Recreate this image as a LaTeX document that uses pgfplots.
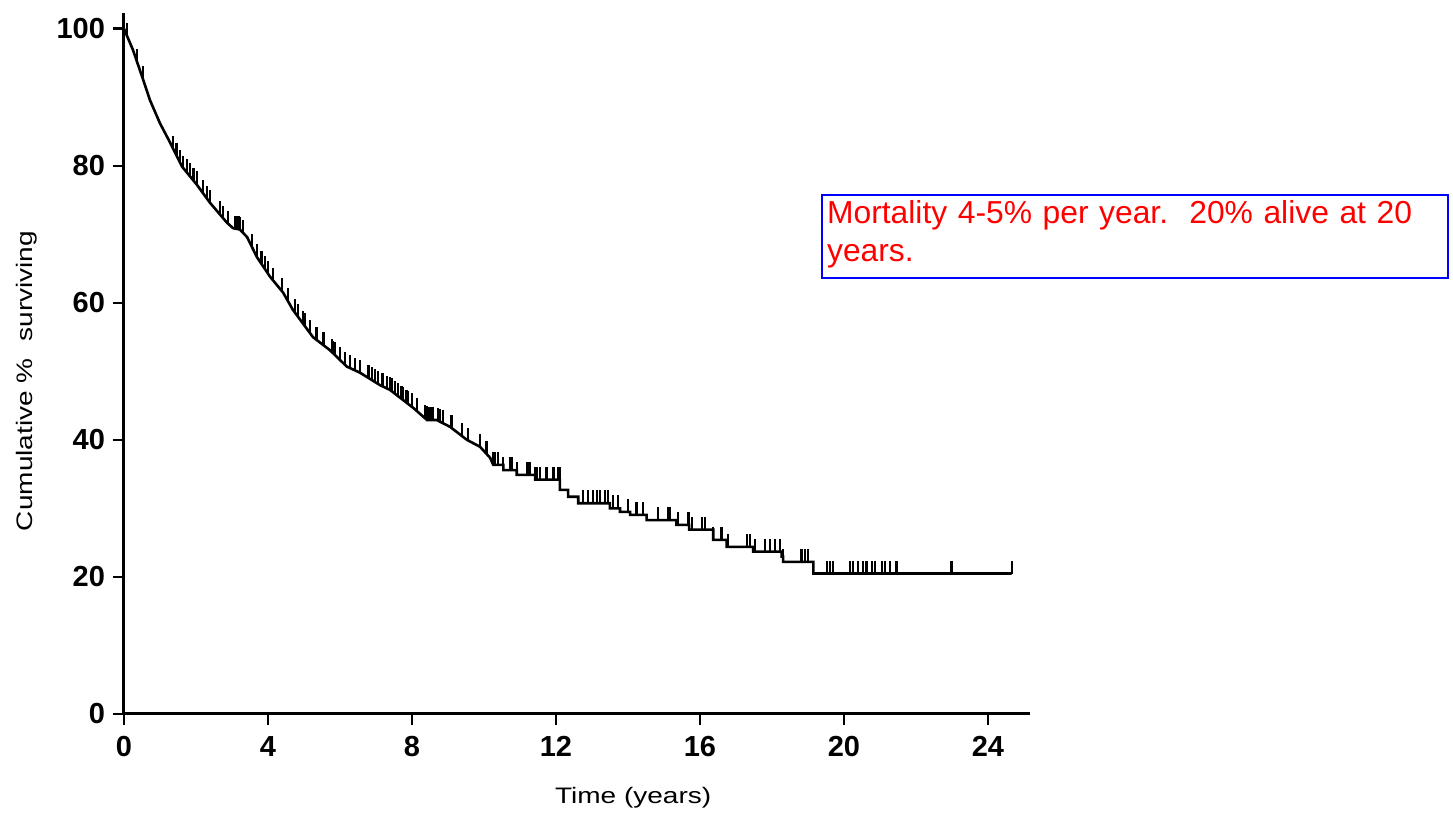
\documentclass[border=0pt]{standalone}
\usepackage{fontspec}
\setmainfont{Liberation Sans}
\usepackage{pgfplots}
\pgfplotsset{compat=1.18}
\pgfdeclareplotmark{cens}{%
  \pgfpathmoveto{\pgfqpoint{0pt}{0pt}}%
  \pgfpathlineto{\pgfqpoint{0pt}{\pgfplotmarksize}}%
  \pgfusepathqstroke}
\begin{document}
\begin{tikzpicture}
\begin{axis}[
  scale only axis, width=453pt, height=350.5pt,
  xmin=0, xmax=25.17, ymin=0, ymax=102.3,
  axis x line*=bottom, axis y line*=left,
  axis line style={line width=1.5pt, -},
  xtick={0,4,...,24}, ytick={0,20,...,100},
  tick align=outside, major tick length=5.5pt,
  tick style={line width=1.3pt, black},
  /pgf/number format/assume math mode=true,
  tick label style={font=\fontsize{14.5}{17}\selectfont\bfseries},
  xticklabel style={yshift=-2pt},
  yticklabel style={xshift=-0.5pt},
  xlabel={\scalebox{1}[0.8]{Time (years)}},
  ylabel={\scalebox{1}[0.8]{Cumulative \%\hspace{0.6em}surviving}},
  label style={font=\fontsize{14}{17}\selectfont},
  xlabel style={at={(rel axis cs:0.562,0)}, anchor=north, yshift=-33pt},
  ylabel style={at={(rel axis cs:0,0.475)}, anchor=south, yshift=40pt},
  clip=false,
]
\addplot[black, line width=1.3pt] coordinates {
(0,100)(0.25,96.9)(0.53,92.6)(0.72,89.6)(1.0,86.2)(1.28,83.4)(1.61,79.9)(2.03,77.2)(2.39,74.6)(2.86,71.7)(3.03,70.9)(3.22,70.7)(3.42,69.6)(3.69,66.7)(4.06,63.8)(4.42,61.5)(4.69,59.0)(5.25,55.0)(5.72,53.1)(6.19,50.7)(6.56,49.8)(7.11,48.0)(7.39,47.3)(8.03,44.7)(8.42,42.9)(8.69,42.9)(9.06,41.9)(9.53,40.0)(9.89,39.0)(10.17,37.4)
(10.26,36.35)(10.54,36.35)(10.54,35.6)(10.91,35.6)(10.91,34.9)(11.42,34.9)(11.42,34.2)(12.11,34.2)(12.11,32.7)(12.34,32.7)(12.34,31.7)(12.62,31.7)(12.62,30.75)(13.5,30.75)(13.5,30.0)(13.78,30.0)(13.78,29.5)(14.06,29.5)(14.06,29.05)(14.52,29.05)(14.52,28.3)(15.35,28.3)(15.35,27.6)(15.7,27.6)(15.7,26.9)(16.37,26.9)(16.37,25.4)(16.74,25.4)(16.74,24.4)(17.48,24.4)(17.48,23.7)(18.27,23.7)(18.27,22.96)(18.31,22.96)(18.31,22.2)(19.15,22.2)(19.15,20.5)(24.66,20.5)
};
\addplot[only marks, mark=cens, mark size=6.5pt, mark options={line width=1.1pt, black}] coordinates {
(0.08,99.0)(0.36,95.2)(0.53,92.6)
(1.37,82.4)(1.46,81.5)(1.56,80.4)(1.65,79.6)(1.74,79.1)(1.83,78.5)(1.93,77.8)(2.02,77.3)(2.2,76.0)(2.3,75.2)(2.39,74.6)(2.67,72.9)(2.76,72.3)(2.9,71.5)(3.08,70.85)(3.13,70.8)(3.18,70.75)(3.22,70.7)(3.31,70.2)(3.55,68.2)(3.69,66.7)(3.82,65.7)(3.92,64.9)(4.01,64.2)(4.15,63.2)(4.38,61.8)(4.56,60.2)
(4.75,58.6)(4.84,57.9)(4.98,56.9)(5.03,56.6)(5.17,55.6)(5.35,54.6)(5.54,53.8)(5.77,52.8)(5.81,52.6)(5.86,52.4)(6.0,51.7)(6.14,51.0)(6.28,50.5)(6.42,50.1)(6.56,49.8)(6.79,49.0)(6.88,48.8)(6.97,48.5)(7.06,48.2)
(7.16,47.9)(7.2,47.8)(7.3,47.5)(7.39,47.3)(7.44,47.1)(7.53,46.7)(7.62,46.4)(7.71,46.0)(7.76,45.8)(7.85,45.4)(7.9,45.2)(7.99,44.9)(8.13,44.2)(8.36,43.2)(8.41,43.0)(8.45,42.9)(8.5,42.9)(8.55,42.9)(8.59,42.9)(8.73,42.8)(8.78,42.65)(8.87,42.4)(9.1,41.7)(9.38,40.6)(9.56,39.9)(9.89,39.0)(10.07,38.0)(10.26,36.35)(10.31,36.35)(10.39,36.35)(10.54,35.6)(10.72,35.6)(10.77,35.6)(10.91,34.9)(11.19,34.9)(11.23,34.9)(11.28,34.9)(11.42,34.2)(11.46,34.2)(11.56,34.2)(11.74,34.2)(11.93,34.2)(12.06,34.2)(12.11,34.2)
(12.76,30.75)(12.9,30.75)(13.04,30.75)(13.13,30.75)(13.22,30.75)(13.36,30.75)(13.45,30.75)(13.59,30.0)(13.73,30.0)(14.01,29.5)(14.24,29.05)(14.42,29.05)(14.84,28.3)(15.12,28.3)(15.17,28.3)(15.4,27.6)(15.68,27.6)(15.77,26.9)(16.05,26.9)(16.14,26.9)(16.37,25.4)(16.6,25.4)(16.79,24.4)(17.3,24.4)(17.39,24.4)(17.53,23.7)(17.8,23.7)(17.94,23.7)(18.08,23.7)(18.22,23.7)(18.31,22.2)(18.82,22.2)(18.92,22.2)(19.01,22.2)(19.52,20.5)(19.61,20.5)(19.7,20.5)(20.17,20.5)(20.26,20.5)(20.4,20.5)(20.54,20.5)(20.63,20.5)(20.77,20.5)(20.86,20.5)(21.05,20.5)(21.14,20.5)(21.28,20.5)(21.46,20.5)(22.99,20.5)(24.66,20.5)
};
\node[draw=blue, line width=1.2pt, text=red, anchor=north west, inner sep=2.5pt,
  text width=308pt, align=left, font=\fontsize{15.9}{19}\selectfont]
  at (axis cs:19.361,75.91) {Mortality 4-5\% per year.\ \ 20\% alive at 20 years.\rule[-6pt]{0pt}{1pt}};
\coordinate (O) at (rel axis cs:0,0);
\end{axis}
\pgfresetboundingbox
\path ([shift={(-62pt,-53pt)}]O) rectangle ([shift={(664.5pt,357pt)}]O);
\end{tikzpicture}
\end{document}
